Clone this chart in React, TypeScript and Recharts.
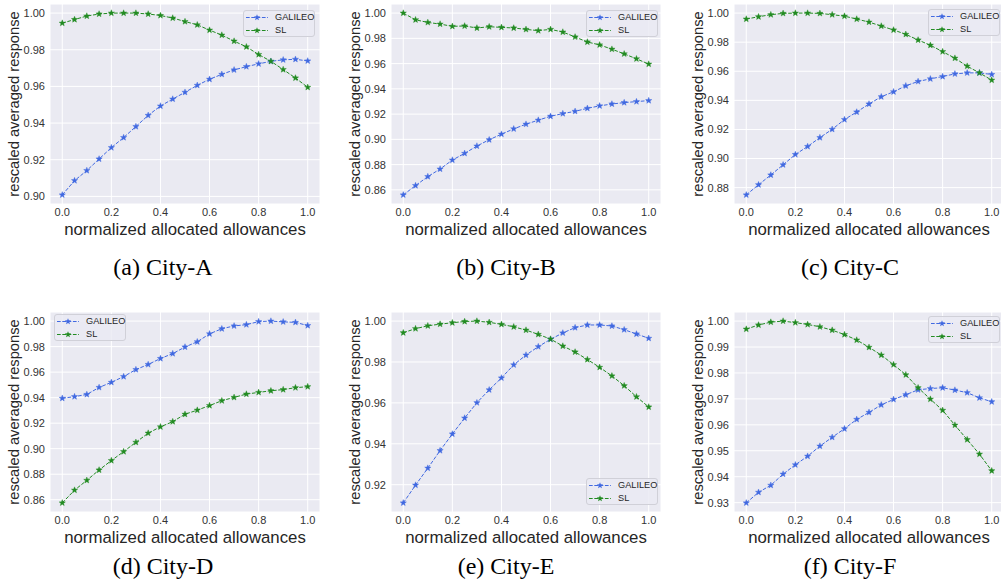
import { LineChart, Line, XAxis, YAxis, CartesianGrid } from 'recharts';

const X = [0, 0.05, 0.1, 0.15, 0.2, 0.25, 0.3, 0.35, 0.4, 0.45, 0.5, 0.55, 0.6, 0.65, 0.7, 0.75, 0.8, 0.85, 0.9, 0.95, 1.0];
const X_TICKS = [0, 0.2, 0.4, 0.6, 0.8, 1.0];

const galileoA = [0.9008, 0.9086, 0.9141, 0.9204, 0.9266, 0.9321, 0.9381, 0.9442, 0.9493, 0.9531, 0.9568, 0.9606, 0.9639, 0.9666, 0.969, 0.9708, 0.9723, 0.9737, 0.9745, 0.9748, 0.9739];
const slA = [0.9945, 0.9965, 0.9984, 0.9995, 1.0, 1.0, 1.0, 0.9995, 0.9987, 0.9973, 0.9954, 0.9936, 0.9907, 0.988, 0.9847, 0.9816, 0.9774, 0.9737, 0.9692, 0.9646, 0.9595];

const galileoB = [0.856, 0.8634, 0.8705, 0.8765, 0.8836, 0.8889, 0.8947, 0.8997, 0.9041, 0.9083, 0.912, 0.9152, 0.9183, 0.9204, 0.9222, 0.9246, 0.9265, 0.928, 0.9291, 0.9299, 0.9307];
const slB = [1.0, 0.9947, 0.9926, 0.9913, 0.9895, 0.9898, 0.9882, 0.9892, 0.9887, 0.9882, 0.9871, 0.9861, 0.9871, 0.985, 0.9811, 0.9771, 0.9748, 0.9714, 0.9677, 0.9638, 0.9596];

const galileoC = [0.875, 0.882, 0.8887, 0.8957, 0.9028, 0.9083, 0.9144, 0.9201, 0.9268, 0.932, 0.9375, 0.9425, 0.9459, 0.95, 0.953, 0.9548, 0.9564, 0.9582, 0.9589, 0.9589, 0.9578];
const slC = [0.9959, 0.9975, 0.9989, 0.9998, 1.0, 1.0, 0.9998, 0.9989, 0.9979, 0.9959, 0.9938, 0.9911, 0.9884, 0.9854, 0.9815, 0.9779, 0.9735, 0.969, 0.9635, 0.9589, 0.9539];

const galileoD = [0.9395, 0.9408, 0.9425, 0.948, 0.952, 0.9565, 0.962, 0.966, 0.9707, 0.9745, 0.9797, 0.9838, 0.99, 0.994, 0.9962, 0.9972, 0.9996, 1.0, 0.9994, 0.999, 0.9965];
const slD = [0.8575, 0.8675, 0.8752, 0.8833, 0.8907, 0.8977, 0.905, 0.9122, 0.9171, 0.9212, 0.927, 0.9302, 0.9338, 0.9376, 0.9402, 0.9428, 0.9441, 0.9454, 0.9463, 0.9478, 0.9486];

const galileoE = [0.9111, 0.9198, 0.9281, 0.9367, 0.9448, 0.9526, 0.9601, 0.9664, 0.9722, 0.9786, 0.9834, 0.9875, 0.9911, 0.9942, 0.9968, 0.9981, 0.9981, 0.9976, 0.9958, 0.9937, 0.9916];
const slE = [0.9943, 0.9963, 0.9977, 0.9985, 0.9992, 0.9998, 1.0, 0.9994, 0.9984, 0.9972, 0.9956, 0.9935, 0.9912, 0.9878, 0.9849, 0.9812, 0.9774, 0.9732, 0.9684, 0.963, 0.958];

const galileoF = [0.9299, 0.934, 0.9367, 0.941, 0.9446, 0.9479, 0.9518, 0.9552, 0.9585, 0.9621, 0.9648, 0.9677, 0.9698, 0.9716, 0.9735, 0.974, 0.9743, 0.9734, 0.9724, 0.9704, 0.9689];
const slF = [0.9969, 0.9985, 0.9996, 1.0, 0.9994, 0.9987, 0.9978, 0.9965, 0.9948, 0.9927, 0.9899, 0.9869, 0.9832, 0.9793, 0.9743, 0.9699, 0.9656, 0.9599, 0.9543, 0.9487, 0.9423];

const ticksA = [0.9, 0.92, 0.94, 0.96, 0.98, 1.0];
const ticksB = [0.86, 0.88, 0.9, 0.92, 0.94, 0.96, 0.98, 1.0];
const ticksC = [0.88, 0.9, 0.92, 0.94, 0.96, 0.98, 1.0];
const ticksD = [0.86, 0.88, 0.9, 0.92, 0.94, 0.96, 0.98, 1.0];
const ticksE = [0.92, 0.94, 0.96, 0.98, 1.0];
const ticksF = [0.93, 0.94, 0.95, 0.96, 0.97, 0.98, 0.99, 1.0];

const SERIES_NAMES = ['GALILEO', 'SL'];
const CAPTIONS = ['(a) City-A', '(b) City-B', '(c) City-C', '(d) City-D', '(e) City-E', '(f) City-F'];

const BLUE = '#4169E1';
const GREEN = '#228B22';
const SANS = '"Liberation Sans", Arial, sans-serif';
const TEXT = '#262626';

const PLOT_W = 270;
const PLOT_H = 200;
const Y_AXIS_W = 50;
const PAD = 5;
const X_AXIS_H = 25;

// plot area top-left, y-label centre x, caption centre, legend box
const LAYOUT = [
  { px: 50, py: 4, ylx: 13.5, cx: 163, cy: 267, lx: 243, ly: 10 },
  { px: 391, py: 4, ylx: 355, cx: 506, cy: 267, lx: 586, ly: 10 },
  { px: 734, py: 4, ylx: 698, cx: 850, cy: 267, lx: 928, ly: 9 },
  { px: 50, py: 312, ylx: 13.5, cx: 163, cy: 566, lx: 54, ly: 314 },
  { px: 391, py: 312, ylx: 355, cx: 506, cy: 566, lx: 586, ly: 478 },
  { px: 734, py: 312, ylx: 698, cx: 850, cy: 566, lx: 928, ly: 316 },
];

const PANELS = [
  { g: galileoA, s: slA, ticks: ticksA },
  { g: galileoB, s: slB, ticks: ticksB },
  { g: galileoC, s: slC, ticks: ticksC },
  { g: galileoD, s: slD, ticks: ticksD },
  { g: galileoE, s: slE, ticks: ticksE },
  { g: galileoF, s: slF, ticks: ticksF },
];

function starPoints(cx: number, cy: number, ro: number, ri: number) {
  const pts: string[] = [];
  for (let i = 0; i < 10; i++) {
    const r = i % 2 === 0 ? ro : ri;
    const a = -Math.PI / 2 + (i * Math.PI) / 5;
    pts.push(`${cx + r * Math.cos(a)},${cy + r * Math.sin(a)}`);
  }
  return pts.join(' ');
}

const makeStar = (color: string) => (props: any) => {
  const { cx, cy, index } = props;
  if (cx == null || cy == null) return <g key={index} />;
  return <polygon key={index} points={starPoints(cx, cy, 3.3, 1.4)} fill={color} stroke={color} strokeWidth={0.4} />;
};

const blueStar = makeStar(BLUE);
const greenStar = makeStar(GREEN);

function LegendBox({ left, top }: { left: number; top: number }) {
  return (
    <div
      style={{
        position: 'absolute',
        left,
        top,
        width: 70,
        height: 25,
        border: '1px solid #d0d0d8',
        borderRadius: 3,
        background: 'rgba(234,234,242,0.8)',
        fontFamily: SANS,
        fontSize: 9.2,
        color: TEXT,
      }}
    >
      {SERIES_NAMES.map((name, i) => {
        const c = i === 0 ? BLUE : GREEN;
        return (
          <div key={name} style={{ position: 'absolute', left: 2, top: 0 + i * 13, height: 13, display: 'flex', alignItems: 'center' }}>
            <svg width={22} height={9} style={{ display: 'block' }}>
              <line x1={0} y1={4.5} x2={22} y2={4.5} stroke={c} strokeWidth={1} strokeDasharray="3.7 1.6" />
              <polygon points={starPoints(11, 4.5, 3.3, 1.4)} fill={c} />
            </svg>
            <span style={{ marginLeft: 7, lineHeight: '13px' }}>{name}</span>
          </div>
        );
      })}
    </div>
  );
}

function Panel({ idx }: { idx: number }) {
  const p = PANELS[idx];
  const l = LAYOUT[idx];
  const data = X.map((x, i) => ({ x, g: p.g[i], s: p.s[i] }));
  const all = [...p.g, ...p.s];
  const lo = Math.min(...all);
  const hi = Math.max(...all);
  const m = (hi - lo) * 0.05;

  return (
    <>
      <div style={{ position: 'absolute', left: l.px - Y_AXIS_W, top: l.py - PAD }}>
        <LineChart
          width={Y_AXIS_W + PLOT_W + PAD}
          height={PAD + PLOT_H + X_AXIS_H}
          data={data}
          margin={{ top: PAD, right: PAD, bottom: 0, left: 0 }}
        >
          <CartesianGrid fill="#EAEAF2" fillOpacity={1} stroke="#ffffff" strokeWidth={1} />
          <XAxis
            dataKey="x"
            type="number"
            domain={[-0.05, 1.05]}
            ticks={X_TICKS}
            tickFormatter={(v: number) => v.toFixed(1)}
            axisLine={false}
            tickLine={false}
            tickSize={0}
            tickMargin={4}
            height={X_AXIS_H}
            interval={0}
            tick={{ fontSize: 11, fill: '#333', fontFamily: SANS }}
          />
          <YAxis
            type="number"
            domain={[lo - m, hi + m]}
            ticks={p.ticks}
            tickFormatter={(v: number) => v.toFixed(2)}
            axisLine={false}
            tickLine={false}
            tickSize={0}
            tickMargin={5}
            width={Y_AXIS_W}
            interval={0}
            allowDataOverflow
            tick={{ fontSize: 11, fill: '#333', fontFamily: SANS }}
          />
          <Line
            dataKey="g"
            type="linear"
            stroke={BLUE}
            strokeWidth={1}
            strokeDasharray="3.7 1.6"
            dot={blueStar}
            activeDot={false}
            isAnimationActive={false}
          />
          <Line
            dataKey="s"
            type="linear"
            stroke={GREEN}
            strokeWidth={1}
            strokeDasharray="3.7 1.6"
            dot={greenStar}
            activeDot={false}
            isAnimationActive={false}
          />
        </LineChart>
      </div>
      <LegendBox left={l.lx} top={l.ly} />
      <div
        style={{
          position: 'absolute',
          left: l.px + PLOT_W / 2 - 150,
          width: 300,
          top: l.py + PLOT_H + 26 - 10,
          height: 20,
          lineHeight: '20px',
          textAlign: 'center',
          fontFamily: SANS,
          fontSize: 16.8,
          color: TEXT,
          whiteSpace: 'nowrap',
        }}
      >
        normalized allocated allowances
      </div>
      <div
        style={{
          position: 'absolute',
          left: l.ylx - 110,
          top: l.py + PLOT_H / 2 - 10,
          width: 220,
          height: 20,
          lineHeight: '20px',
          textAlign: 'center',
          transform: 'rotate(-90deg)',
          fontFamily: SANS,
          fontSize: 14.7,
          color: TEXT,
          whiteSpace: 'nowrap',
        }}
      >
        rescaled averaged response
      </div>
      <div
        style={{
          position: 'absolute',
          left: l.cx - 100,
          width: 200,
          top: l.cy - 14,
          height: 28,
          lineHeight: '28px',
          textAlign: 'center',
          fontFamily: '"Liberation Serif", "Times New Roman", serif',
          fontSize: 24,
          color: '#000',
          whiteSpace: 'nowrap',
        }}
      >
        {CAPTIONS[idx]}
      </div>
    </>
  );
}

export default function App() {
  return (
    <div style={{ position: 'absolute', left: 0, top: 0, width: 1001, height: 584, overflow: 'hidden', background: '#fff' }}>
      {PANELS.map((_, i) => (
        <Panel key={i} idx={i} />
      ))}
    </div>
  );
}
